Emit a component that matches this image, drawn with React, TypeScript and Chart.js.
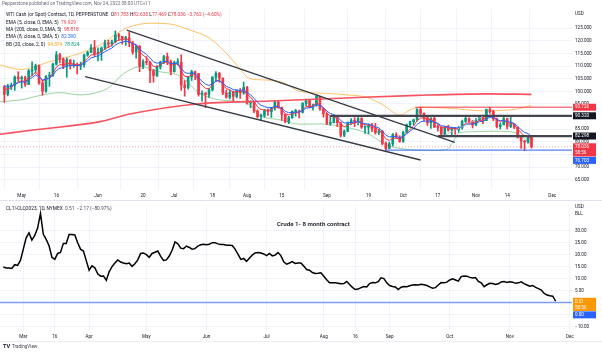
import React, { useEffect, useRef } from 'react';
import { Chart, registerables } from 'chart.js';
Chart.register(...registerables);

// ---------------- TOP PANEL DATA (bar index 0 = 2 May 2022, daily bars) ----------------
const firstBar = -5; // 25 Apr 2022
const firstOpen = 101.9;
const closes = [
  98.8, 102.0, 102.3, 105.7, 105.0,
  105.5, 102.7, 108.1, 108.6, 110.1, 103.4, 100.1, 106.0, 106.4, 110.8,
  114.5, 112.7, 109.9, 112.5, 110.6, 110.6, 110.1, 110.6, 114.4, 115.4,
  117.3, 115.0, 115.6, 117.2, 119.2, 118.8, 119.7, 122.4, 121.8, 121.0,
  121.2, 119.2, 115.6, 117.9, 109.9, 111.8, 111.5, 108.2, 106.3, 109.6,
  111.6, 113.8, 111.8, 107.8, 111.4, 111.5, 102.5, 101.5, 105.7, 107.8,
  107.1, 98.8, 99.3, 98.8, 100.6, 105.6, 107.2, 105.3, 99.4, 97.7,
  99.7, 98.0, 100.3, 99.4, 101.6, 95.4, 95.9, 92.2, 90.0, 90.5,
  92.3, 92.0, 93.4, 95.8, 93.6, 90.9, 88.0, 89.6, 92.0, 92.3,
  91.7, 95.2, 96.4, 94.0, 94.6, 98.0, 93.1, 91.1, 87.3, 87.6,
  89.5, 87.6, 82.6, 84.2, 87.5, 88.5, 88.0, 89.2, 85.8, 85.8,
  86.4, 85.2, 83.6, 84.2, 79.4, 77.4, 79.2, 82.9, 81.9, 80.2,
  83.8, 86.7, 88.0, 88.7, 92.8, 91.3, 89.6, 87.5, 89.3, 85.8,
  85.7, 83.0, 85.8, 84.7, 85.3, 84.8, 85.5, 88.1, 89.3, 88.1,
  86.7, 88.6, 90.2, 88.4, 92.8, 92.0, 89.1, 86.0, 86.7, 89.2,
  86.1, 87.1, 85.8, 81.8, 80.3, 79.9, 81.798, 78.036,
];
const highs = [
  102.3, 102.8, 103.3, 106.1, 107.8,
  106.1, 106.1, 108.7, 111.7, 110.8, 110.5, 104.4, 106.3, 107.6, 111.2,
  115.8, 115.1, 113.3, 113.3, 112.5, 112.4, 111.3, 111.6, 114.8, 115.9,
  118.5, 120.2, 117.3, 117.6, 120.3, 120.3, 120.3, 124.0, 123.0, 121.8,
  121.8, 123.5, 119.9, 118.3, 118.2, 112.6, 113.8, 111.9, 108.7, 110.2,
  112.0, 114.3, 115.2, 112.4, 112.0, 113.0, 114.5, 104.3, 106.0, 108.4,
  108.0, 107.1, 100.2, 99.6, 101.2, 105.9, 107.8, 107.5, 105.3, 100.6,
  100.5, 100.1, 100.5, 101.1, 103.7, 102.0, 96.3, 96.1, 92.7, 91.0,
  92.9, 93.0, 93.7, 96.4, 96.0, 93.8, 90.9, 90.1, 92.3, 92.9,
  92.6, 95.6, 96.9, 96.8, 95.0, 98.6, 98.1, 93.4, 91.5, 90.3,
  90.3, 89.8, 87.6, 84.7, 87.9, 89.2, 89.6, 90.3, 89.6, 86.3,
  87.1, 87.3, 87.3, 85.0, 84.5, 80.0, 79.9, 83.3, 83.6, 82.4,
  84.2, 87.1, 88.2, 89.0, 93.2, 93.7, 91.5, 90.0, 89.6, 90.2,
  86.8, 85.9, 86.1, 86.6, 85.7, 85.7, 86.1, 88.6, 90.0, 89.5,
  88.5, 89.3, 90.5, 90.6, 93.0, 93.7, 92.5, 89.4, 87.5, 90.1,
  89.4, 89.7, 87.2, 85.8, 82.5, 80.6, 82.0, 82.63,
];
const lows = [
  95.6, 98.2, 100.7, 100.4, 104.0,
  101.3, 102.0, 102.8, 106.2, 107.2, 102.8, 98.5, 99.6, 102.0, 105.9,
  110.4, 111.3, 109.0, 105.6, 108.8, 109.5, 106.9, 108.6, 109.6, 113.9,
  115.3, 113.8, 112.1, 112.3, 116.5, 117.4, 117.9, 119.2, 120.2, 118.7,
  118.2, 117.7, 114.7, 113.2, 107.8, 109.0, 110.5, 103.5, 103.6, 105.8,
  108.8, 111.0, 110.6, 106.6, 107.6, 110.5, 100.4, 98.1, 100.9, 104.3,
  104.6, 98.1, 96.1, 93.6, 97.6, 100.2, 103.8, 103.6, 98.7, 97.3,
  97.0, 96.2, 97.4, 97.2, 98.8, 94.9, 93.5, 91.6, 89.4, 88.5,
  89.7, 90.5, 89.7, 92.6, 93.3, 88.5, 87.6, 87.2, 89.3, 90.2,
  89.5, 91.4, 94.3, 93.4, 92.6, 94.1, 92.5, 89.8, 86.8, 86.5,
  87.5, 86.0, 81.9, 82.0, 84.0, 86.9, 86.0, 86.7, 85.3, 83.3,
  83.2, 84.0, 83.0, 82.8, 78.8, 76.7, 77.3, 78.3, 81.3, 79.8,
  79.8, 83.6, 86.0, 86.8, 88.2, 90.5, 88.2, 86.5, 85.3, 85.7,
  84.2, 82.3, 82.5, 84.2, 82.3, 83.0, 83.8, 85.0, 87.7, 87.0,
  85.5, 86.4, 88.4, 87.2, 88.5, 91.3, 88.4, 85.5, 85.1, 86.8,
  85.1, 85.6, 85.2, 81.5, 77.4, 76.5, 79.5, 77.469,
];
const emaSeed5 = 101.5;
const emaSeed8 = 103.0;

const priceTicks = [65, 70, 75, 80, 85, 90, 95, 100, 105, 110, 115, 120, 125];
const topTickBars = [0, 10, 22, 35, 44, 55, 65, 75, 88, 100, 110, 120, 131, 140, 153];
const topTickLabels = ['May', '16', 'Jun', '20', 'Jul', '18', 'Aug', '15', 'Sep', '19', 'Oct', '17', 'Nov', '14', 'Dec'];

const smaBars = [-6.3, 3.3, 22.6, 31.2, 50.5, 71.6, 91.8, 114, 134.2, 147];
const smaVals = [83.0, 84.7, 88.0, 91.0, 95.0, 96.2, 97.3, 98.4, 99.0, 98.818];
const bbUpBars = [-6.3, -0.5, 8.2, 16.8, 22.6, 28.3, 31.2, 37.0, 42.8, 48.5, 54.3, 60.1, 62.9, 65.8, 70.7, 75.3, 80.2, 88.0, 93.8, 99.6, 104.2, 109.1, 111.9, 114.8, 123.5, 133.0, 142.8, 147];
const bbUpVals = [110.5, 108.7, 111.8, 115.1, 118.4, 123.7, 125.6, 127.0, 126.7, 124.3, 121.0, 113.5, 109.0, 105.0, 104.5, 103.5, 100.0, 99.2, 98.6, 97.6, 94.6, 90.6, 92.6, 93.7, 93.3, 92.3, 93.0, 94.374];
const bbLoBars = [-6.3, -0.5, 6.1, 11.0, 16.8, 22.6, 25.5, 28.3, 31.2, 34.1, 39.9, 45.6, 51.4, 57.2, 62.9, 65.8, 68.7, 74.5, 80.2, 86.0, 92.6, 99.6, 105.3, 109.1, 112.8, 118.6, 122.6, 124.6, 126.2, 130.1, 135.9, 140.8, 143.7, 147];
const bbLoVals = [95.9, 96.6, 98.6, 99.5, 98.6, 99.9, 101.9, 105.8, 108.5, 109.8, 107.8, 106.1, 99.2, 96.6, 95.9, 94.6, 90.6, 88.7, 87.0, 87.1, 86.0, 83.4, 78.7, 77.4, 76.8, 76.6, 77.0, 80.5, 83.6, 84.0, 84.2, 84.0, 82.6, 78.824];

const channelUpperBars = [30.3, 124.9];
const channelUpperVals = [124.3, 79.8];
const channelLowerBars = [18.3, 115.0];
const channelLowerVals = [105.8, 72.8];
const risingBars = [122.1, 133.0];
const risingVals = [82.7, 90.1];

const levelValues = [93.726, 90.32, 82.298, 76.703];
const levelStartBars = [113.5, 89, 120, 105];
const lastPrice = 78.036;

// ---------------- BOTTOM PANEL DATA (bar index 0 = 1 Mar 2022) ----------------
const spreadFirstBar = -7;
const spreadValues = [
  14.9, 14.4, 14.4, 14.2, 15.8, 15.5, 17.6,
  22.3, 27.0, 29.1, 26.1, 28.0, 31.1, 37.2, 28.5, 26.4, 23.7,
  18.9, 18.0, 20.5, 20.9, 24.7, 24.7, 28.4, 28.4, 28.2, 25.0,
  22.3, 21.5, 17.5, 13.5, 15.3, 14.5, 12.0, 11.0, 11.1, 9.3,
  12.8, 15.0, 16.5, 17.8, 16.9, 16.5, 16.2, 16.5, 15.1, 16.2,
  17.8, 20.5, 20.7, 20.0, 18.9, 20.5, 21.0, 21.5, 19.3, 17.6,
  17.8, 19.4, 21.8, 25.3, 24.5, 22.7, 22.5, 23.6, 23.0, 22.3,
  22.5, 23.6, 24.1, 24.3, 24.1, 24.3, 25.0, 25.0, 24.5, 24.2,
  24.2, 23.9, 23.9, 23.8, 22.3, 20.2, 18.0, 18.4, 17.2, 18.5,
  19.8, 20.7, 20.9, 20.7, 20.3, 19.6, 20.5, 19.5, 19.8, 20.9,
  19.6, 17.0, 16.0, 16.5, 17.1, 16.3, 16.5, 16.5, 15.2, 13.8,
  13.5, 12.5, 12.1, 12.2, 12.4, 11.0, 9.5, 8.2, 8.2, 8.2,
  8.0, 7.8, 7.9, 8.8, 7.5, 6.3, 5.4, 5.6, 6.2, 6.7,
  6.5, 7.9, 8.3, 8.2, 8.7, 10.3, 10.0, 8.2, 7.1, 6.7,
  6.5, 5.4, 6.4, 6.7, 6.6, 7.0, 7.3, 7.4, 7.3, 7.6,
  7.4, 7.1, 6.5, 6.0, 6.2, 7.3, 8.3, 8.2, 8.5, 9.4,
  9.9, 9.4, 8.9, 10.8, 11.1, 11.0, 10.5, 10.2, 10.4, 8.8,
  8.2, 6.6, 7.4, 8.0, 7.9, 7.5, 7.8, 8.6, 8.8, 8.4,
  8.7, 8.5, 8.0, 8.2, 8.6, 7.9, 7.3, 6.8, 7.1, 6.3,
  5.8, 5.2, 3.8, 3.1, 2.8, 2.6, 0.51,
];
const spreadTicks = [-10, -5, 0, 5, 10, 15, 20, 25, 30];
const bottomTickBars = [0, 11, 23, 43, 64, 85, 105, 116, 128, 149, 170, 191];
const bottomTickLabels = ['Mar', '16', 'Apr', 'May', 'Jun', 'Jul', 'Aug', '16', 'Sep', 'Oct', 'Nov', 'Dec'];
const zeroLevel = 0;

// ---------------- STYLE / VIEW ----------------
const FONT = 'Roboto, "Noto Sans", sans-serif';
const UP = '#089981';
const DOWN = '#F23645';
const GRID = '#f0f3fa';
const TXT = '#131722';
const TOP_VIEW = { xMin: -6.257, xMax: 158.68, yMin: 60.91, yMax: 132.65 };
const BOT_VIEW = { xMin: -8.14, xMax: 191.72, yMin: -11.93, yMax: 40.02 };

function ema(values: number[], period: number, seed: number) {
  const k = 2 / (period + 1);
  let prev = seed;
  return values.map((v) => (prev = v * k + prev * (1 - k)));
}
const pts = (xs: number[], ys: number[]) => xs.map((x, k) => ({ x, y: ys[k] }));

function lineDs(data: any[], color: string, width: number, order: number, extra: any = {}) {
  return { type: 'line', data, borderColor: color, borderWidth: width, pointRadius: 0, fill: false, tension: 0, order, ...extra };
}

function drawSegments(ctx: CanvasRenderingContext2D, x: number, y: number, segs: [string, string][]) {
  let cx = x;
  segs.forEach(([t, c]) => {
    ctx.fillStyle = c;
    ctx.fillText(t, cx, y);
    cx += ctx.measureText(t).width;
  });
}

function drawBox(ctx: CanvasRenderingContext2D, top: number, lines: string[], bg: string, fg = '#fff') {
  const h = 6.2 * lines.length + 0.8;
  ctx.fillStyle = bg;
  ctx.fillRect(573, top, 23, h);
  ctx.fillStyle = fg;
  lines.forEach((t, k) => ctx.fillText(t, 575, top + 3.6 + k * 6.2));
  return top + h;
}

const topOverlay = {
  id: 'topOverlay',
  afterDraw(chart: any) {
    const { ctx } = chart;
    const ys = chart.scales.y;
    ctx.save();
    ctx.textBaseline = 'middle';
    ctx.font = `4.6px ${FONT}`;
    ctx.fillStyle = '#6a6d78';
    ctx.fillText('Pepperstone published on TradingView.com, Nov 24, 2022 08:00 UTC+11', 2, 4);
    ctx.font = `4.8px ${FONT}`;
    drawSegments(ctx, 6, 15, [
      ['WTI Cash (or Spot) Contract, 1D, PEPPERSTONE  ', TXT],
      ['O', TXT], ['81.783 ', DOWN], ['H', TXT], ['82.630 ', DOWN], ['L', TXT], ['77.469 ', DOWN],
      ['C', TXT], ['78.036 ', DOWN], ['\u22123.762 (\u22124.60%)', DOWN],
    ]);
    drawSegments(ctx, 6, 22.5, [['EMA (5, close, 0, EMA, 5)  ', TXT], ['79.929', DOWN]]);
    drawSegments(ctx, 6, 30, [['MA (200, close, 0, SMA, 5)  ', TXT], ['98.818', DOWN]]);
    drawSegments(ctx, 6, 37.2, [['EMA (8, close, 0, SMA, 5)  ', TXT], ['82.390', '#2962FF']]);
    drawSegments(ctx, 6, 44.4, [['BB (20, close, 2, 0)  ', TXT], ['94.374', '#FF9800'], ['  78.824', UP]]);
    ctx.fillStyle = TXT;
    ctx.font = `4.6px ${FONT}`;
    ctx.fillText('USD', 575, 14);
    const c = (v: number) => ys.getPixelForValue(v) - 3.5;
    drawBox(ctx, c(levelValues[0]), [levelValues[0].toFixed(3)], '#F23645');
    drawBox(ctx, c(levelValues[1]), [levelValues[1].toFixed(3)], '#131722');
    drawBox(ctx, c(levelValues[2]), [levelValues[2].toFixed(3)], '#131722');
    const end = drawBox(ctx, c(lastPrice), [lastPrice.toFixed(3), '58:56'], '#F23645');
    drawBox(ctx, Math.max(end + 0.4, c(levelValues[3])), [levelValues[3].toFixed(3)], '#2962FF');
    ctx.strokeStyle = '#e0e3eb';
    ctx.lineWidth = 1;
    ctx.beginPath();
    ctx.moveTo(0, 200.5);
    ctx.lineTo(602, 200.5);
    ctx.stroke();
    ctx.restore();
  },
};

const bottomOverlay = {
  id: 'bottomOverlay',
  afterDraw(chart: any) {
    const { ctx } = chart;
    const ys = chart.scales.y;
    ctx.save();
    ctx.textBaseline = 'middle';
    ctx.font = `4.8px ${FONT}`;
    drawSegments(ctx, 6, 8, [['CL1!-CLQ2023, 1D, NYMEX  ', TXT], ['0.51  ', '#434651'], ['\u22122.17 (\u221280.97%)', '#434651']]);
    ctx.font = `600 6.2px ${FONT}`;
    ctx.fillStyle = TXT;
    ctx.fillText('Crude 1- 8 month contract', 277, 23);
    ctx.font = `4.6px ${FONT}`;
    ctx.fillStyle = TXT;
    ctx.fillText('USD', 575, 6);
    ctx.fillText('BLL', 575, 13);
    const last = spreadValues[spreadValues.length - 1];
    const end = drawBox(ctx, ys.getPixelForValue(last) - 3.5, [last.toFixed(2), '58:56'], '#FF9800');
    drawBox(ctx, Math.max(end + 0.4, ys.getPixelForValue(zeroLevel) - 3.5), [zeroLevel.toFixed(2)], '#2962FF');
    ctx.font = `bold 5.6px ${FONT}`;
    ctx.fillStyle = TXT;
    ctx.fillText('TV', 3, 146);
    ctx.font = `4.6px ${FONT}`;
    ctx.fillStyle = '#434651';
    ctx.fillText('TradingView', 12, 146);
    ctx.strokeStyle = '#eceef2';
    ctx.beginPath();
    ctx.moveTo(0, 140.5);
    ctx.lineTo(602, 140.5);
    ctx.stroke();
    ctx.restore();
  },
};

function topConfig(): any {
  const bars = closes.map((_, k) => firstBar + k);
  const opens = closes.map((_, k) => (k === 0 ? firstOpen : closes[k - 1]));
  const colors = closes.map((c, k) => (c >= opens[k] ? UP : DOWN));
  const ema5 = ema(closes, 5, emaSeed5);
  const ema8 = ema(closes, 8, emaSeed8);
  const datasets: any[] = [
    lineDs(pts(bbUpBars, bbUpVals), 'rgba(255,152,0,0.6)', 1, 30, { cubicInterpolationMode: 'monotone' }),
    lineDs(pts(bbLoBars, bbLoVals), 'rgba(76,175,80,0.55)', 1, 30, { cubicInterpolationMode: 'monotone' }),
    { type: 'bar', data: bars.map((b, k) => ({ x: b, y: [lows[k], highs[k]] })), backgroundColor: colors, barThickness: 1, grouped: false, order: 25 },
    { type: 'bar', data: bars.map((b, k) => ({ x: b, y: [opens[k], closes[k]] })), backgroundColor: colors, barThickness: 2, minBarLength: 1, grouped: false, order: 24 },
    lineDs(pts(smaBars, smaVals), '#F7525F', 1.6, 12, { cubicInterpolationMode: 'monotone' }),
    lineDs(bars.map((b, k) => ({ x: b, y: ema5[k] })), '#F23645', 1, 11),
    lineDs(bars.map((b, k) => ({ x: b, y: ema8[k] })), '#2962FF', 1, 10),
    lineDs([{ x: TOP_VIEW.xMin, y: lastPrice }, { x: TOP_VIEW.xMax, y: lastPrice }], 'rgba(242,54,69,0.55)', 0.8, 9, { borderDash: [1, 2] }),
    lineDs(pts(channelUpperBars, channelUpperVals), '#363A45', 1.3, 2),
    lineDs(pts(channelLowerBars, channelLowerVals), '#363A45', 1.3, 2),
    lineDs(pts(risingBars, risingVals), '#b2b5be', 0.8, 2),
    lineDs([{ x: levelStartBars[0], y: levelValues[0] }, { x: TOP_VIEW.xMax, y: levelValues[0] }], 'rgba(242,54,69,0.65)', 1.6, 3),
    lineDs([{ x: levelStartBars[1], y: levelValues[1] }, { x: TOP_VIEW.xMax, y: levelValues[1] }], '#434651', 2.2, 3),
    lineDs([{ x: levelStartBars[2], y: levelValues[2] }, { x: TOP_VIEW.xMax, y: levelValues[2] }], '#434651', 2.2, 3),
    lineDs([{ x: levelStartBars[3], y: levelValues[3] }, { x: TOP_VIEW.xMax, y: levelValues[3] }], 'rgba(41,98,255,0.8)', 1.2, 3),
  ];
  return {
    type: 'bar',
    data: { datasets },
    plugins: [topOverlay],
    options: {
      animation: false,
      responsive: false,
      devicePixelRatio: 1,
      events: [],
      layout: { padding: { top: 9, left: 0, right: 0, bottom: 0 } },
      plugins: { legend: { display: false }, tooltip: { enabled: false } },
      scales: {
        x: {
          type: 'linear', min: TOP_VIEW.xMin, max: TOP_VIEW.xMax, offset: false,
          afterBuildTicks: (s: any) => { s.ticks = topTickBars.map((v) => ({ value: v })); },
          afterFit: (s: any) => { s.height = 11; },
          ticks: { autoSkip: false, maxRotation: 0, padding: 3, color: TXT, font: { size: 4.6, family: FONT },
            callback: (v: any) => topTickLabels[topTickBars.indexOf(Number(v))] ?? '' },
          grid: { color: GRID, drawTicks: false },
          border: { display: false },
        },
        y: {
          type: 'linear', position: 'right', min: TOP_VIEW.yMin, max: TOP_VIEW.yMax,
          afterBuildTicks: (s: any) => { s.ticks = priceTicks.map((v) => ({ value: v })); },
          afterFit: (s: any) => { s.width = 30; },
          ticks: { padding: 3, color: TXT, font: { size: 4.6, family: FONT }, callback: (v: any) => Number(v).toFixed(3) },
          grid: { color: GRID, drawTicks: false },
          border: { display: false },
        },
      },
    },
  };
}

function bottomConfig(): any {
  const data = spreadValues.map((v, k) => ({ x: spreadFirstBar + k, y: v }));
  return {
    type: 'line',
    data: {
      datasets: [
        lineDs([{ x: BOT_VIEW.xMin, y: zeroLevel }, { x: BOT_VIEW.xMax, y: zeroLevel }], 'rgba(41,98,255,0.6)', 1.6, 5),
        lineDs(data, '#000000', 1.5, 1),
      ],
    },
    plugins: [bottomOverlay],
    options: {
      animation: false,
      responsive: false,
      devicePixelRatio: 1,
      events: [],
      layout: { padding: { top: 2, left: 0, right: 0, bottom: 12 } },
      plugins: { legend: { display: false }, tooltip: { enabled: false } },
      scales: {
        x: {
          type: 'linear', min: BOT_VIEW.xMin, max: BOT_VIEW.xMax, offset: false,
          afterBuildTicks: (s: any) => { s.ticks = bottomTickBars.map((v) => ({ value: v })); },
          afterFit: (s: any) => { s.height = 11; },
          ticks: { autoSkip: false, maxRotation: 0, padding: 3, color: TXT, font: { size: 4.6, family: FONT },
            callback: (v: any) => bottomTickLabels[bottomTickBars.indexOf(Number(v))] ?? '' },
          grid: { color: GRID, drawTicks: false },
          border: { display: false },
        },
        y: {
          type: 'linear', position: 'right', min: BOT_VIEW.yMin, max: BOT_VIEW.yMax,
          afterBuildTicks: (s: any) => { s.ticks = spreadTicks.map((v) => ({ value: v })); },
          afterFit: (s: any) => { s.width = 30; },
          ticks: { padding: 3, color: TXT, font: { size: 4.6, family: FONT },
            callback: (v: any) => (Number(v) < 0 ? '\u2212' + Math.abs(Number(v)).toFixed(2) : Number(v).toFixed(2)) },
          grid: { color: GRID, drawTicks: false },
          border: { display: false },
        },
      },
    },
  };
}

export default function App() {
  const topRef = useRef<HTMLCanvasElement>(null);
  const botRef = useRef<HTMLCanvasElement>(null);
  useEffect(() => {
    document.body.style.margin = '0';
    const top = new Chart(topRef.current as HTMLCanvasElement, topConfig());
    const bot = new Chart(botRef.current as HTMLCanvasElement, bottomConfig());
    return () => {
      top.destroy();
      bot.destroy();
    };
  }, []);
  return (
    <div style={{ position: 'relative', width: 602, height: 354, background: '#ffffff', overflow: 'hidden' }}>
      <canvas ref={topRef} width={602} height={201} style={{ position: 'absolute', left: 0, top: 0, width: 602, height: 201 }} />
      <canvas ref={botRef} width={602} height={153} style={{ position: 'absolute', left: 0, top: 201, width: 602, height: 153 }} />
    </div>
  );
}
